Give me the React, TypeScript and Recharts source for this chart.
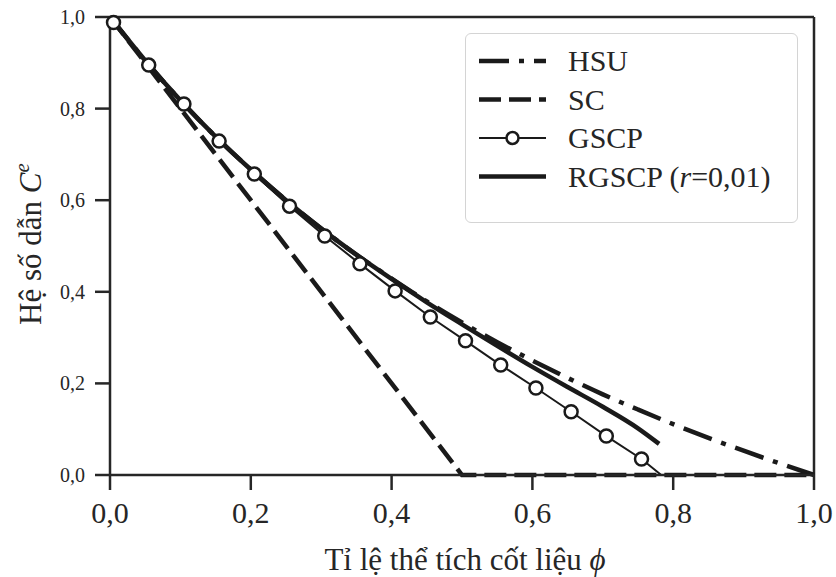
import React from "react";
import {
  LineChart,
  Line,
  XAxis,
  YAxis,
  Legend,
  ReferenceLine,
} from "recharts";

// volume fraction of aggregate (phi) and effective conductivity C^e
const hsuPhi = [0, 0.05, 0.1, 0.15, 0.2, 0.25, 0.3, 0.35, 0.4, 0.45, 0.5, 0.55, 0.6, 0.65, 0.7, 0.75, 0.8, 0.85, 0.9, 0.95, 1.0];
const hsuValues = [1.0, 0.905, 0.818, 0.739, 0.667, 0.6, 0.538, 0.481, 0.429, 0.379, 0.333, 0.29, 0.25, 0.212, 0.176, 0.143, 0.111, 0.081, 0.053, 0.026, 0.0];

const scPhi = [0, 0.5, 1.0];
const scValues = [1.0, 0.0, 0.0];

const gscpPhi = [0.005, 0.055, 0.105, 0.155, 0.205, 0.255, 0.305, 0.355, 0.405, 0.455, 0.505, 0.555, 0.605, 0.655, 0.705, 0.755, 0.783];
const gscpValues = [0.988, 0.895, 0.81, 0.729, 0.657, 0.587, 0.522, 0.461, 0.402, 0.345, 0.293, 0.24, 0.19, 0.138, 0.085, 0.035, 0.0];

const rgscpPhi = [0, 0.05, 0.1, 0.15, 0.2, 0.25, 0.3, 0.35, 0.4, 0.45, 0.5, 0.55, 0.6, 0.65, 0.7, 0.75, 0.78];
const rgscpValues = [1.0, 0.905, 0.818, 0.739, 0.667, 0.6, 0.538, 0.481, 0.428, 0.377, 0.329, 0.282, 0.236, 0.192, 0.149, 0.102, 0.068];

const xTicks = [0, 0.2, 0.4, 0.6, 0.8, 1.0];
const yTicks = [0, 0.2, 0.4, 0.6, 0.8, 1.0];

const toRows = (phi: number[], vals: number[]) =>
  phi.map((p, i) => ({ phi: p, value: vals[i] }));

const INK = "#1a1a1a";
const AXIS = "#262626";
const FONT = "'Liberation Serif', 'Times New Roman', serif";
const HSU_DASH = "30 10 5 10";
const SC_DASH = "22 8";
const serif = { fontFamily: FONT };

const fmt = (v: number) => v.toFixed(1).replace(".", ",");

const XTick = (props: any) => (
  <text
    x={props.x}
    y={props.y + 31}
    textAnchor="middle"
    style={serif}
    fontSize={30}
    fill={AXIS}
  >
    {fmt(props.payload.value)}
  </text>
);

const YTick = (props: any) => (
  <text
    x={props.x - 8}
    y={props.y + 7}
    textAnchor="end"
    style={serif}
    fontSize={20}
    fill={AXIS}
  >
    {fmt(props.payload.value)}
  </text>
);

const GscpDot = (props: any) => {
  const { cx, cy, payload, index } = props;
  if (payload.phi > 0.76) return <g key={`d${index}`} />;
  return (
    <circle
      key={`d${index}`}
      cx={cx}
      cy={cy}
      r={6.5}
      fill="#fff"
      stroke={INK}
      strokeWidth={2.5}
    />
  );
};

const legendRows = [
  { name: "HSU", kind: "hsu" },
  { name: "SC", kind: "sc" },
  { name: "GSCP", kind: "gscp" },
  { name: "RGSCP", kind: "rgscp" },
];

const LegendBox = () => (
  <div
    style={{
      width: 331,
      height: 188,
      border: "1px solid #d4d4d4",
      borderRadius: 6,
      background: "#fff",
    }}
  >
    <svg width={331} height={188}>
      {legendRows.map((row, i) => {
        const y = 27 + i * 38.5;
        let sample;
        if (row.kind === "hsu")
          sample = <line x1={13} x2={80} y1={y} y2={y} stroke={INK} strokeWidth={4.5} strokeDasharray={HSU_DASH} />;
        else if (row.kind === "sc")
          sample = <line x1={13} x2={80} y1={y} y2={y} stroke={INK} strokeWidth={4.5} strokeDasharray={SC_DASH} />;
        else if (row.kind === "gscp")
          sample = (
            <g>
              <line x1={13} x2={80} y1={y} y2={y} stroke={INK} strokeWidth={2} />
              <circle cx={46.5} cy={y} r={6} fill="#fff" stroke={INK} strokeWidth={2.5} />
            </g>
          );
        else
          sample = <line x1={13} x2={80} y1={y} y2={y} stroke={INK} strokeWidth={4.5} />;
        return (
          <g key={row.name}>
            {sample}
            <text x={102} y={y + 10} style={serif} fontSize={30} fill={AXIS}>
              {row.kind === "rgscp" ? (
                <>
                  RGSCP (<tspan fontStyle="italic">r</tspan>=0,01)
                </>
              ) : (
                row.name
              )}
            </text>
          </g>
        );
      })}
    </svg>
  </div>
);

export default function App() {
  return (
    <div style={{ position: "absolute", left: 0, top: 0, background: "#fff" }}>
      <LineChart
        width={836}
        height={577}
        margin={{ top: 17, right: 22, bottom: 0, left: 0 }}
      >
        <XAxis
          type="number"
          dataKey="phi"
          domain={[0, 1]}
          ticks={xTicks}
          height={102}
          tickSize={15}
          tick={<XTick />}
          axisLine={{ stroke: AXIS, strokeWidth: 2.5 }}
          tickLine={{ stroke: AXIS, strokeWidth: 2.5 }}
          allowDuplicatedCategory={false}
        />
        <YAxis
          type="number"
          dataKey="value"
          domain={[0, 1]}
          ticks={yTicks}
          width={110}
          tickSize={15}
          tick={<YTick />}
          axisLine={{ stroke: AXIS, strokeWidth: 2.5 }}
          tickLine={{ stroke: AXIS, strokeWidth: 2.5 }}
        />
        <ReferenceLine y={1} stroke={AXIS} strokeWidth={2.5} />
        <ReferenceLine x={1} stroke={AXIS} strokeWidth={2.5} />
        <Line
          data={toRows(hsuPhi, hsuValues)}
          dataKey="value"
          type="monotone"
          stroke={INK}
          strokeWidth={4.5}
          strokeDasharray={HSU_DASH}
          dot={false}
          activeDot={false}
          isAnimationActive={false}
        />
        <Line
          data={toRows(scPhi, scValues)}
          dataKey="value"
          type="linear"
          stroke={INK}
          strokeWidth={4.5}
          strokeDasharray={SC_DASH}
          dot={false}
          activeDot={false}
          isAnimationActive={false}
        />
        <Line
          data={toRows(gscpPhi, gscpValues)}
          dataKey="value"
          type="linear"
          stroke={INK}
          strokeWidth={2}
          dot={<GscpDot />}
          activeDot={false}
          isAnimationActive={false}
        />
        <Line
          data={toRows(rgscpPhi, rgscpValues)}
          dataKey="value"
          type="monotone"
          stroke={INK}
          strokeWidth={4.5}
          dot={false}
          activeDot={false}
          isAnimationActive={false}
        />
        <Legend
          layout="horizontal"
          verticalAlign="middle"
          align="center"
          content={<LegendBox />}
          wrapperStyle={{ left: 465, top: 33, width: 333, height: 190 }}
        />
      </LineChart>
      <svg
        width={836}
        height={577}
        style={{ position: "absolute", left: 0, top: 0, pointerEvents: "none" }}
      >
        <text
          x={465}
          y={570}
          textAnchor="middle"
          style={serif}
          fontSize={31}
          fill={AXIS}
        >
          Tỉ lệ thể tích cốt liệu <tspan fontStyle="italic">ϕ</tspan>
        </text>
        <text
          x={41}
          y={244}
          transform="rotate(-90, 41, 244)"
          textAnchor="middle"
          style={serif}
          fontSize={31}
          fill={AXIS}
        >
          Hệ số dẫn <tspan fontStyle="italic">C</tspan>
          <tspan fontStyle="italic" fontSize={21} dy={-12}>e</tspan>
        </text>
      </svg>
    </div>
  );
}
